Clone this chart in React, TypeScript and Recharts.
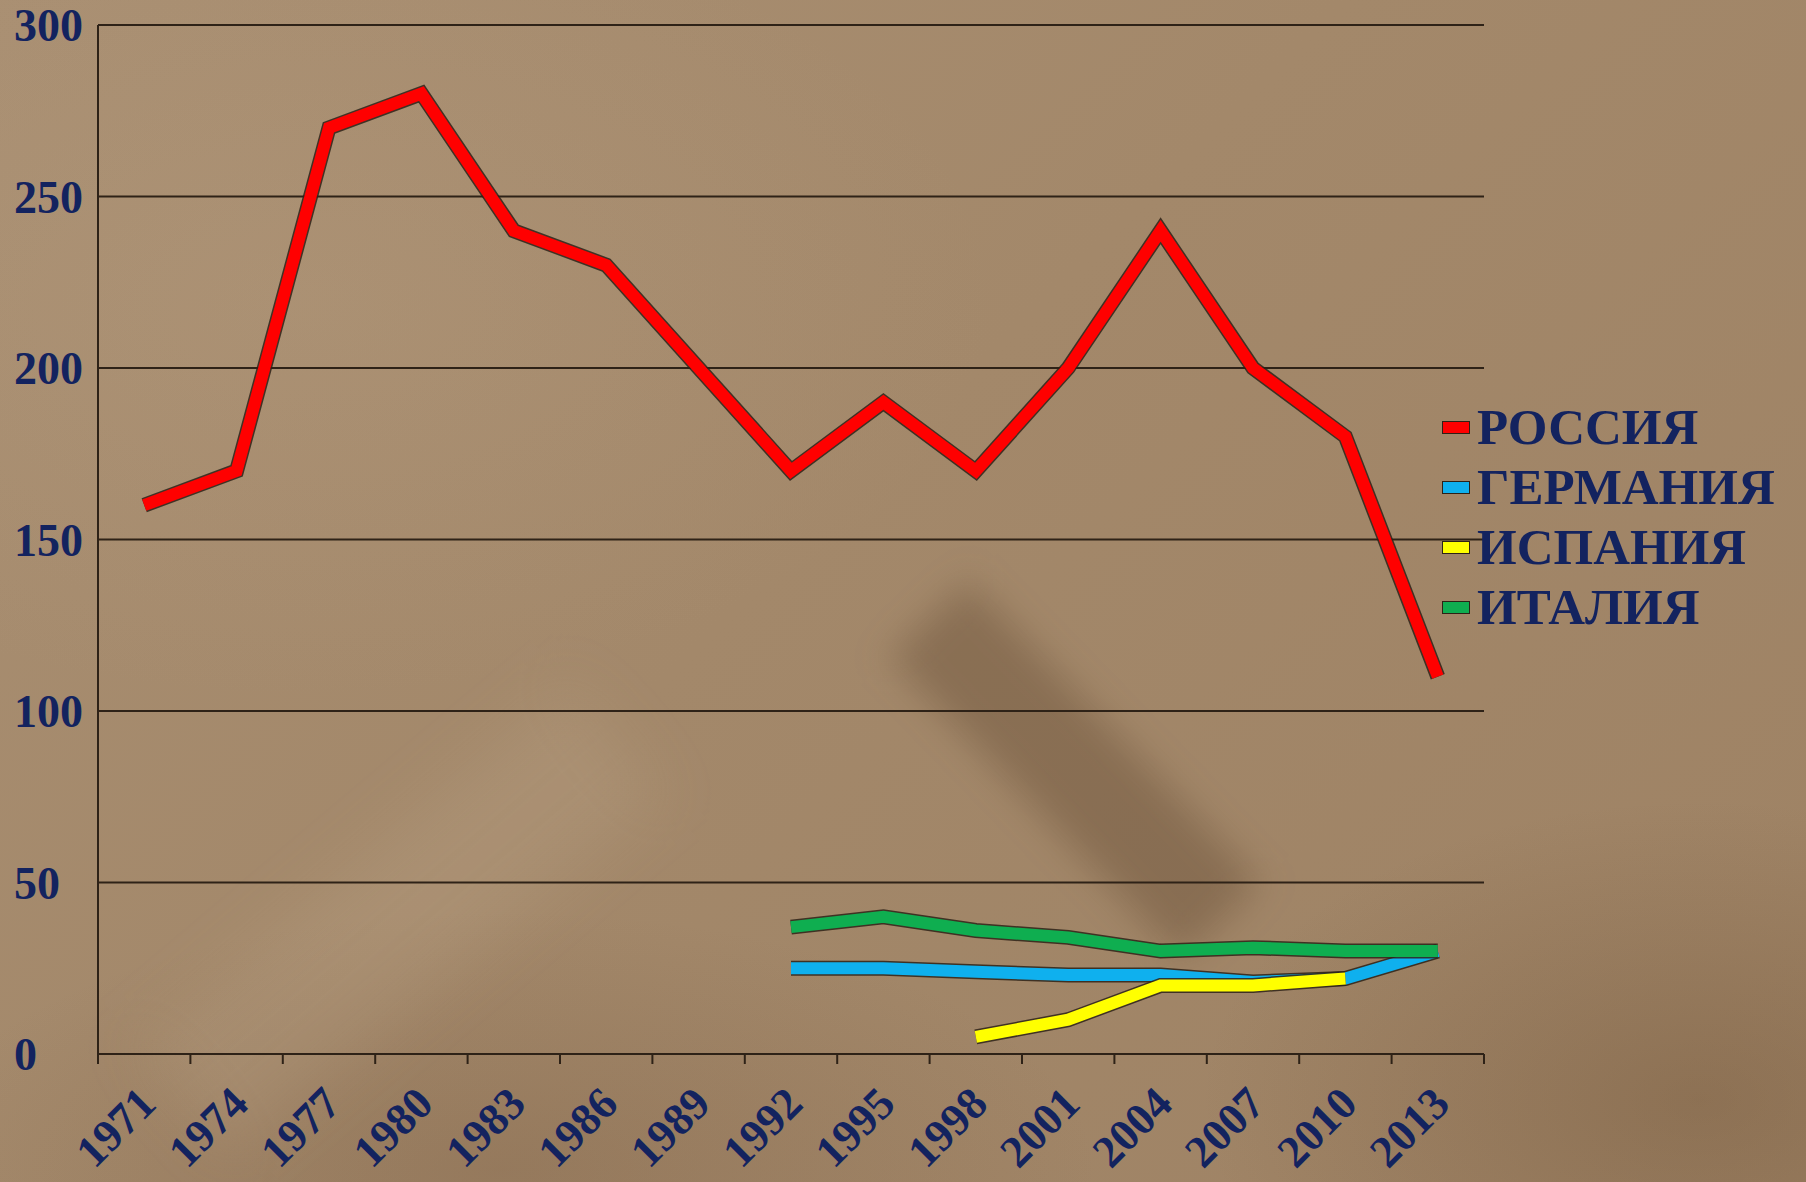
import React from 'react';
import { LineChart, Line, XAxis, YAxis, CartesianGrid } from 'recharts';

// categories
const years = ['1971', '1974', '1977', '1980', '1983', '1986', '1989', '1992', '1995', '1998', '2001', '2004', '2007', '2010', '2013'];

// series values
const russia = [160, 170, 270, 280, 240, 230, 200, 170, 190, 170, 200, 240, 200, 180, 110];
const germany = [null, null, null, null, null, null, null, 25, 25, 24, 23, 23, 21, 22, 30];
const spain = [null, null, null, null, null, null, null, null, null, 5, 10, 20, 20, 22, null];
const italy = [null, null, null, null, null, null, null, 37, 40, 36, 34, 30, 31, 30, 30];

const yTicks = [0, 50, 100, 150, 200, 250, 300];

const series = [
    { key: 'russia', name: 'РОССИЯ', color: '#ff0000' },
    { key: 'germany', name: 'ГЕРМАНИЯ', color: '#0fb0ee' },
    { key: 'spain', name: 'ИСПАНИЯ', color: '#ffff00' },
    { key: 'italy', name: 'ИТАЛИЯ', color: '#0fae50' },
];

const data = years.map((year, i) => ({
    year,
    russia: russia[i],
    germany: germany[i],
    spain: spain[i],
    italy: italy[i],
}));

const W = 1806;
const H = 1182;
const margin = { top: 25, right: 322, left: 0, bottom: 0 };
const Y_AXIS_W = 98;
const X_AXIS_H = 128;
const BAND = (W - margin.right - Y_AXIS_W) / years.length;

const TEXT = '#13235f';
const LINE_DARK = '#2e2217';
const FONT = '"Liberation Serif", "Times New Roman", serif';

const XTick = (props: any) => {
    const { x, y, payload, index } = props;
    const tx = x + 14;
    const ty = y + 52;
    return (
        <g>
            <line x1={x - BAND / 2} y1={y} x2={x - BAND / 2} y2={y + 10} stroke={LINE_DARK} strokeWidth={2} />
            {index === years.length - 1 && (
                <line x1={x + BAND / 2} y1={y} x2={x + BAND / 2} y2={y + 10} stroke={LINE_DARK} strokeWidth={2} />
            )}
            <text
                x={tx}
                y={ty}
                transform={`rotate(-45, ${tx}, ${ty})`}
                textAnchor="end"
                fill={TEXT}
                fontFamily={FONT}
                fontWeight="bold"
                fontSize={45}
            >
                {payload.value}
            </text>
        </g>
    );
};

const YTick = (props: any) => {
    const { y, payload } = props;
    return (
        <text x={14} y={y} dy="0.35em" textAnchor="start" fill={TEXT} fontFamily={FONT} fontWeight="bold" fontSize={46}>
            {payload.value}
        </text>
    );
};

const LegendBox = () => (
    <div style={{ position: 'absolute', left: 1442, top: 397, fontFamily: FONT }}>
        {series.map((s) => (
            <div key={s.key} style={{ display: 'flex', alignItems: 'center', height: 60 }}>
                <div style={{ width: 26, height: 11, background: s.color, border: `1px solid ${LINE_DARK}`, marginRight: 7 }} />
                <span style={{ color: TEXT, fontWeight: 'bold', fontSize: 51, lineHeight: '60px' }}>{s.name}</span>
            </div>
        ))}
    </div>
);

export default function App() {
    return (
        <div
            style={{
                position: 'absolute',
                left: 0,
                top: 0,
                width: W,
                height: H,
                overflow: 'hidden',
                background:
                    'radial-gradient(ellipse 500px 300px at 1700px 1100px, rgba(100,72,45,0.3), rgba(100,72,45,0) 100%),' +
                    'radial-gradient(ellipse 700px 400px at 300px 300px, rgba(190,165,135,0.2), rgba(190,165,135,0) 100%),' +
                    'radial-gradient(ellipse 600px 260px at 500px 1170px, rgba(110,80,55,0.25), rgba(110,80,55,0) 100%),' +
                    'linear-gradient(135deg, #a98f72 0%, #a3886a 45%, #9e8264 100%)',
            }}
        >
            {/* texture hints: a dark diagonal streak and a light one */}
            <div
                style={{
                    position: 'absolute',
                    left: 1020,
                    top: 560,
                    width: 110,
                    height: 420,
                    background: 'rgba(85,60,38,0.32)',
                    filter: 'blur(18px)',
                    transform: 'rotate(-44deg)',
                }}
            />
            <div
                style={{
                    position: 'absolute',
                    left: 330,
                    top: 640,
                    width: 140,
                    height: 560,
                    background: 'rgba(200,178,150,0.18)',
                    filter: 'blur(30px)',
                    transform: 'rotate(50deg)',
                }}
            />
            <div style={{ position: 'absolute', left: 0, top: 0 }}>
                <LineChart width={W} height={H} data={data} margin={margin}>
                    <CartesianGrid vertical={false} stroke={LINE_DARK} strokeWidth={2} />
                    <XAxis
                        dataKey="year"
                        height={X_AXIS_H}
                        interval={0}
                        padding={{ left: BAND / 2, right: BAND / 2 }}
                        tickSize={0}
                        tickMargin={0}
                        tickLine={false}
                        axisLine={{ stroke: LINE_DARK, strokeWidth: 2 }}
                        tick={<XTick />}
                    />
                    <YAxis
                        width={Y_AXIS_W}
                        domain={[0, 300]}
                        ticks={yTicks}
                        tickLine={false}
                        axisLine={{ stroke: LINE_DARK, strokeWidth: 2 }}
                        tick={<YTick />}
                    />
                    {series.map((s) => [
                        <Line
                            key={s.key + '-edge'}
                            dataKey={s.key}
                            stroke={LINE_DARK}
                            strokeOpacity={0.85}
                            strokeWidth={15}
                            dot={false}
                            activeDot={false}
                            legendType="none"
                            isAnimationActive={false}
                        />,
                        <Line
                            key={s.key}
                            dataKey={s.key}
                            name={s.name}
                            stroke={s.color}
                            strokeWidth={12}
                            dot={false}
                            activeDot={false}
                            isAnimationActive={false}
                        />,
                    ])}
                </LineChart>
            </div>
            <LegendBox />
        </div>
    );
}
